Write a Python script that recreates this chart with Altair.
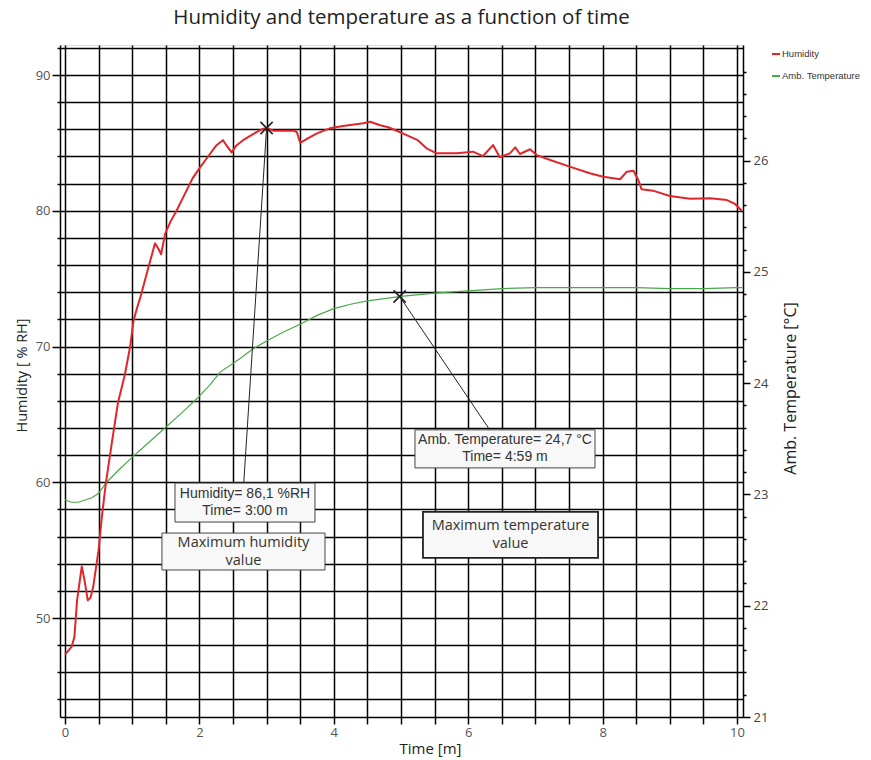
import altair as alt
import pandas as pd

# ---------------- data ----------------
hum_t = [0.00, 0.05, 0.10, 0.14, 0.18, 0.25, 0.29, 0.34, 0.38, 0.42, 0.50, 0.55, 0.61, 0.70, 0.79,
         0.89, 0.97, 1.02, 1.07, 1.12, 1.24, 1.34, 1.39, 1.43, 1.49, 1.57, 1.66, 1.81, 1.90, 2.01,
         2.16, 2.25, 2.35, 2.42, 2.48, 2.55, 2.65, 2.75, 2.85, 2.93, 3.00, 3.10, 3.25, 3.40, 3.45,
         3.50, 3.60, 3.75, 3.94, 4.14, 4.44, 4.54, 4.69, 4.81, 4.99, 5.25, 5.38, 5.53, 5.83, 6.07,
         6.22, 6.37, 6.47, 6.62, 6.70, 6.77, 6.92, 7.02, 7.22, 7.51, 7.81, 8.01, 8.26, 8.36, 8.46,
         8.53, 8.58, 8.75, 9.00, 9.30, 9.60, 9.85, 9.97, 10.07]
hum_v = [47.3, 47.6, 47.9, 48.6, 51.3, 53.8, 52.8, 51.3, 51.5, 52.3, 55.0, 57.5, 60.0, 63.0, 65.9,
         67.9, 70.0, 71.9, 72.8, 73.6, 75.8, 77.6, 77.2, 76.8, 78.3, 79.2, 80.0, 81.5, 82.4, 83.2,
         84.2, 84.8, 85.2, 84.7, 84.3, 84.8, 85.2, 85.5, 85.8, 86.0, 86.1, 85.9, 85.9, 85.9, 85.8,
         85.0, 85.3, 85.7, 86.07, 86.24, 86.44, 86.56, 86.3, 86.15, 85.78, 85.2, 84.6, 84.23, 84.23, 84.35,
         84.03, 84.84, 83.94, 84.23, 84.67, 84.18, 84.53, 84.1, 83.74, 83.25, 82.76, 82.51, 82.32, 82.88, 82.95,
         82.27, 81.58, 81.48, 81.09, 80.89, 80.92, 80.79, 80.5, 80.0]

temp_t = [0.00, 0.10, 0.20, 0.30, 0.40, 0.50, 0.62, 0.80, 1.01, 1.25, 1.49, 1.75, 1.96, 2.15, 2.31,
          2.60, 2.80, 3.00, 3.25, 3.50, 3.75, 4.00, 4.25, 4.50, 4.75, 5.00, 5.50, 6.00, 6.50, 7.00,
          7.50, 8.00, 8.50, 9.00, 9.50, 10.00, 10.08]
temp_v = [22.95, 22.93, 22.93, 22.95, 22.97, 23.01, 23.11, 23.22, 23.34, 23.47, 23.60, 23.74, 23.86, 23.98, 24.10,
          24.22, 24.31, 24.38, 24.46, 24.53, 24.61, 24.67, 24.71, 24.74, 24.76, 24.78, 24.81, 24.83, 24.85, 24.86,
          24.86, 24.86, 24.86, 24.85, 24.85, 24.86, 24.86]

SERIES = ["Humidity", "Amb. Temperature"]
COLORS = ["#e2252b", "#4aa84a"]

x_ticks = [0.0, 0.5, 1.0, 1.5, 2.0, 2.5, 3.0, 3.5, 4.0, 4.5, 5.0, 5.5, 6.0, 6.5, 7.0, 7.5,
           8.0, 8.5, 9.0, 9.5, 10.0]
h_ticks = [44, 46, 48, 50, 52, 54, 56, 58, 60, 62, 64, 66, 68, 70, 72, 74, 76, 78, 80, 82,
           84, 86, 88, 90, 92]
t_ticks = [21.0, 21.2, 21.4, 21.6, 21.8, 22.0, 22.2, 22.4, 22.6, 22.8, 23.0, 23.2, 23.4, 23.6,
           23.8, 24.0, 24.2, 24.4, 24.6, 24.8, 25.0, 25.2, 25.4, 25.6, 25.8, 26.0, 26.2, 26.4,
           26.6, 26.8]

X_DOM = [-0.074, 10.089]
H_DOM = [42.71, 92.21]
T_DOM = [21.0, 27.04]

# annotations (data coordinates)
hum_peak = {"t": [3.00], "v": [86.1], "t2": [2.66], "v2": [59.94]}
temp_peak = {"t": [4.98], "v": [24.78], "t2": [6.32], "v2": [23.581]}

hum_info_box = {"x0": [1.637], "x1": [3.720], "y0": [59.94], "y1": [57.07],
                "label": ["Humidity= 86,1 %RH\nTime= 3:00 m"]}
hum_note_box = {"x0": [1.443], "x1": [3.869], "y0": [56.26], "y1": [53.54],
                "label": ["Maximum humidity\nvalue"]}
temp_info_box = {"x0": [5.208], "x1": [7.887], "y0": [23.581], "y1": [23.239],
                 "label": ["Amb. Temperature= 24,7 °C\nTime= 4:59 m"]}
temp_note_box = {"x0": [5.327], "x1": [7.932], "y0": [22.844], "y1": [22.430],
                 "label": ["Maximum temperature\nvalue"]}

# ---------------- helpers ----------------
def box_df(d):
    df = pd.DataFrame(d)
    df["xc"] = (df["x0"] + df["x1"]) / 2
    df["yc"] = (df["y0"] + df["y1"]) / 2
    return df

FONT = "Open Sans"
SMALL = "Liberation Sans"

x_scale = alt.Scale(domain=X_DOM, nice=False, zero=False)
h_scale = alt.Scale(domain=H_DOM, nice=False, zero=False)
t_scale = alt.Scale(domain=T_DOM, nice=False, zero=False)

x_axis = alt.Axis(
    values=x_ticks,
    labelExpr="datum.value % 2 === 0 ? format(datum.value, 'd') : ''",
    grid=True, gridColor="#000", gridWidth=1.5,
    ticks=True, tickColor="#000", tickWidth=1.5, tickSize=7,
    domain=True, domainColor="#000", domainWidth=1.5,
    labelFont=FONT, labelFontSize=13, labelColor="#555", labelPadding=2,
    labelOverlap=False, labelFlush=False,
    title="Time [m]", titleFont=FONT, titleFontSize=15, titleFontWeight="normal",
    titleColor="#222", titleX=370, titleY=31, titleAlign="center", titleBaseline="middle",
)

h_axis = alt.Axis(
    orient="left",
    values=h_ticks,
    labelExpr="datum.value % 10 === 0 ? format(datum.value, 'd') : ''",
    grid=True, gridColor="#000", gridWidth=1.5,
    ticks=True, tickColor="#000", tickWidth=1.5,
    tickSize={"condition": {"test": "datum.value % 10 === 0", "value": 8}, "value": 3},
    domain=True, domainColor="#000", domainWidth=1.5,
    labelFont=FONT, labelFontSize=13, labelColor="#555", labelPadding=2,
    labelOverlap=False, labelFlush=False,
    title="Humidity [ % RH]", titleFont=FONT, titleFontSize=14.5, titleFontWeight="normal",
    titleColor="#222", titleAngle=270, titleX=-38, titleY=330,
    titleAlign="center", titleBaseline="middle",
)

t_axis = alt.Axis(
    orient="right",
    values=t_ticks,
    labelExpr="abs(datum.value - round(datum.value)) < 0.01 ? format(datum.value, 'd') : ''",
    grid=False,
    ticks=True, tickColor="#000", tickWidth=1.5,
    tickSize={"condition": {"test": "abs(datum.value - round(datum.value)) < 0.01", "value": 7},
              "value": 3},
    domain=True, domainColor="#000", domainWidth=1.5,
    labelFont=FONT, labelFontSize=13, labelColor="#444", labelPadding=3,
    labelOverlap=False, labelFlush=False,
    title="Amb. Temperature [°C]", titleFont=FONT, titleFontSize=16, titleFontWeight="normal",
    titleColor="#222", titleAngle=270, titleX=47, titleY=343,
    titleAlign="center", titleBaseline="middle",
)

def X(field):
    return alt.X(f"{field}:Q", scale=x_scale, axis=x_axis)

def HY(field):
    return alt.Y(f"{field}:Q", scale=h_scale, axis=h_axis)

def TY(field):
    return alt.Y(f"{field}:Q", scale=t_scale, axis=t_axis)

color_enc = alt.Color(
    "series:N",
    scale=alt.Scale(domain=SERIES, range=COLORS),
    legend=alt.Legend(
        orient="none", legendX=711, legendY=4, title=None, padding=0,
        symbolType="stroke", symbolSize=64, symbolStrokeWidth=2,
        labelFont=SMALL, labelFontSize=9.5, labelColor="#333",
        labelOffset=1, rowPadding=12, labelLimit=200,
    ),
)

CROSS = "M-1,-1L1,1M-1,1L1,-1"

hum_df = pd.DataFrame({"t": hum_t, "v": hum_v, "series": "Humidity"})
temp_df = pd.DataFrame({"t": temp_t, "v": temp_v, "series": "Amb. Temperature"})

def info_text(df, yenc):
    return alt.Chart(df).mark_text(font=SMALL, fontSize=14, color="#333", lineBreak="\n",
                                   lineHeight=17, align="center", baseline="middle",
                                   dy=-8.5).encode(x=X("xc"), y=yenc("yc"), text="label:N")

def note_text(df, yenc):
    return alt.Chart(df).mark_text(font=FONT, fontSize=14.5, color="#333", lineBreak="\n",
                                   lineHeight=18, align="center", baseline="middle",
                                   dy=-9).encode(x=X("xc"), y=yenc("yc"), text="label:N")

# ---------------- temperature group (right axis) ----------------
temp_line = alt.Chart(temp_df).mark_line(strokeWidth=1.2).encode(
    x=X("t"), y=TY("v"), color=color_enc)
temp_conn = alt.Chart(pd.DataFrame(temp_peak)).mark_rule(color="#222", strokeWidth=1).encode(
    x=X("t"), y=TY("v"), x2="t2:Q", y2="v2:Q")
temp_mark = alt.Chart(pd.DataFrame(temp_peak)).mark_point(
    shape=CROSS, size=150, filled=False, stroke="#222", strokeWidth=1.6, opacity=1).encode(
    x=X("t"), y=TY("v"))
tb1 = box_df(temp_info_box)
tb2 = box_df(temp_note_box)
temp_box1 = alt.Chart(tb1).mark_rect(fill="#f8f8f8", stroke="#444", strokeWidth=1).encode(
    x=X("x0"), x2="x1:Q", y=TY("y0"), y2="y1:Q")
temp_box2 = alt.Chart(tb2).mark_rect(fill="#f8f8f8", stroke="#222", strokeWidth=1.8).encode(
    x=X("x0"), x2="x1:Q", y=TY("y0"), y2="y1:Q")

temp_group = alt.layer(temp_line, temp_conn, temp_mark, temp_box1, temp_box2,
                       info_text(tb1, TY), note_text(tb2, TY))

# ---------------- humidity group (left axis) ----------------
hum_line = alt.Chart(hum_df).mark_line(strokeWidth=2, strokeJoin="round").encode(
    x=X("t"), y=HY("v"), color=color_enc)
hum_conn = alt.Chart(pd.DataFrame(hum_peak)).mark_rule(color="#222", strokeWidth=1).encode(
    x=X("t"), y=HY("v"), x2="t2:Q", y2="v2:Q")
hum_mark = alt.Chart(pd.DataFrame(hum_peak)).mark_point(
    shape=CROSS, size=150, filled=False, stroke="#222", strokeWidth=1.6, opacity=1).encode(
    x=X("t"), y=HY("v"))
hb1 = box_df(hum_info_box)
hb2 = box_df(hum_note_box)
hum_box1 = alt.Chart(hb1).mark_rect(fill="#f8f8f8", stroke="#444", strokeWidth=1).encode(
    x=X("x0"), x2="x1:Q", y=HY("y0"), y2="y1:Q")
hum_box2 = alt.Chart(hb2).mark_rect(fill="#f8f8f8", stroke="#444", strokeWidth=1).encode(
    x=X("x0"), x2="x1:Q", y=HY("y0"), y2="y1:Q")

hum_group = alt.layer(hum_line, hum_conn, hum_mark, hum_box1, hum_box2,
                      info_text(hb1, HY), note_text(hb2, HY))

chart = alt.layer(temp_group, hum_group).resolve_scale(y="independent").properties(
    width=683, height=672,
    padding={"left": 52, "top": 37, "right": 118, "bottom": 40},
    autosize=alt.AutoSizeParams(type="none"),
    title=alt.TitleParams(
        "Humidity and temperature as a function of time",
        font=FONT, fontSize=20.5, fontWeight="normal", color="#222",
        anchor="middle", offset=13,
    ),
).configure_view(fill="#efefef", stroke="transparent").configure(background="white")

chart.save("out.html", embed_options={"renderer": "svg", "actions": False})
